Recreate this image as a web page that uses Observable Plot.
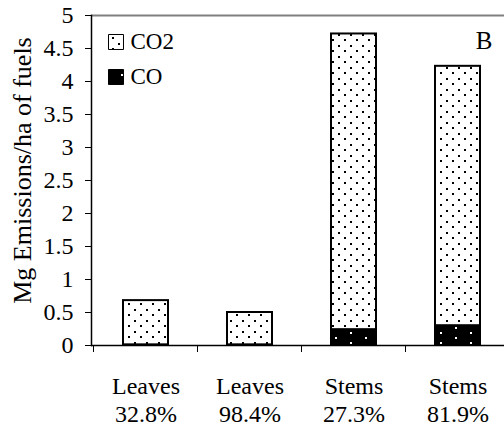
<!DOCTYPE html>
<html><head><meta charset="utf-8">
<script src="https://cdn.jsdelivr.net/npm/d3@7"></script>
<script src="https://cdn.jsdelivr.net/npm/@observablehq/plot@0.6"></script>
<style>body{margin:0;background:#fff;} svg text{font-family:"Liberation Serif","Times New Roman",serif;}</style>
</head><body><div id="chart"></div>
<script>
const fuels = ["Leaves", "Leaves", "Stems", "Stems"];
const consumed = ["32.8%", "98.4%", "27.3%", "81.9%"];
const coValues = [0.01, 0.01, 0.24, 0.30];
const co2Values = [0.67, 0.49, 4.48, 3.93];
const seriesNames = ["CO", "CO2"];
const yTicks = [0, 0.5, 1, 1.5, 2, 2.5, 3, 3.5, 4, 4.5, 5];
const yTitle = "Mg Emissions/ha of fuels";
const panel = "B";

const keys = fuels.map((f, i) => f + " " + consumed[i]);
const rows = keys.flatMap((k, i) => [
  {key: k, series: "CO", value: coValues[i]},
  {key: k, series: "CO2", value: co2Values[i]}
]);

const font = "Liberation Serif";

const chart = Plot.plot({
  width: 504,
  height: 434,
  marginLeft: 91,
  marginRight: 0,
  marginTop: 15,
  marginBottom: 89,
  style: "font-family: 'Liberation Serif', serif; font-size: 24px; background: #fff; color: #000; overflow: hidden;",
  x: {domain: keys, range: [91, 511], paddingInner: 0.571, paddingOuter: 0.286, axis: null},
  y: {domain: [0, 5], axis: null},
  color: {domain: seriesNames, range: ["url(#pCO)", "url(#pCO2)"]},
  marks: [
    Plot.ruleY([5], {stroke: "#808080", strokeWidth: 2}),
    Plot.barY(rows, {x: "key", y: "value", fill: "series", stroke: "#000", strokeWidth: 2}),
    Plot.ruleY([0], {stroke: "#000", strokeWidth: 1.5}),
    Plot.axisY({ticks: yTicks, tickSize: 6, tickPadding: 12, tickFormat: d => String(d), label: null, fontSize: 24, fontFamily: font, stroke: "#000"}),
    Plot.frame({anchor: "left", stroke: "#000", strokeWidth: 1.5}),
    Plot.axisX({ticks: keys, tickSize: 7, tickFormat: () => "", label: null, dx: -52.5, stroke: "#000"}),
    Plot.text(keys, {x: d => d, text: (d, i) => fuels[i] + "\n" + consumed[i], frameAnchor: "bottom", lineAnchor: "top", dy: 29, lineHeight: 1.15, fontSize: 24, fontFamily: font}),
    Plot.text([yTitle], {frameAnchor: "left", textAnchor: "middle", rotate: -90, dx: -68.5, dy: -10, fontSize: 26, fontFamily: font, lineAnchor: "middle"}),
    Plot.dot([seriesNames[1]], {frameAnchor: "top-left", symbol: "square", r: 8.46, dx: 24.5, dy: 26.5, fill: "url(#pCO2)", stroke: "#000", strokeWidth: 1}),
    Plot.dot([seriesNames[0]], {frameAnchor: "top-left", symbol: "square", r: 8.46, dx: 24.5, dy: 61.5, fill: "url(#pCO)", stroke: "#000", strokeWidth: 1}),
    Plot.text([seriesNames[1]], {frameAnchor: "top-left", textAnchor: "start", dx: 39, dy: 26.6, fontSize: 23, fontFamily: font, lineAnchor: "middle"}),
    Plot.text([seriesNames[0]], {frameAnchor: "top-left", textAnchor: "start", dx: 39, dy: 61.6, fontSize: 23, fontFamily: font, lineAnchor: "middle"}),
    Plot.text([panel], {frameAnchor: "top-right", textAnchor: "middle", dx: -20.5, dy: 25.3, fontSize: 25, fontFamily: font, lineAnchor: "middle"})
  ]
});

// fill patterns (dotted hatching as in the original)
const defs = d3.select(chart).insert("defs", ":first-child");
const p1 = defs.append("pattern").attr("id", "pCO2").attr("patternUnits", "userSpaceOnUse").attr("width", 12).attr("height", 11);
p1.append("rect").attr("width", 12).attr("height", 11).attr("fill", "#fff");
p1.append("rect").attr("x", 2).attr("y", 1).attr("width", 2).attr("height", 2).attr("fill", "#000");
p1.append("rect").attr("x", 8).attr("y", 6).attr("width", 2).attr("height", 2).attr("fill", "#000");
const p2 = defs.append("pattern").attr("id", "pCO").attr("patternUnits", "userSpaceOnUse").attr("width", 30).attr("height", 10);
p2.append("rect").attr("width", 30).attr("height", 10).attr("fill", "#000");
p2.append("rect").attr("x", 5).attr("y", 7).attr("width", 2).attr("height", 2).attr("fill", "#fff");
p2.append("rect").attr("x", 20).attr("y", 2).attr("width", 2).attr("height", 2).attr("fill", "#fff");

document.getElementById("chart").appendChild(chart);
</script>
</body></html>
